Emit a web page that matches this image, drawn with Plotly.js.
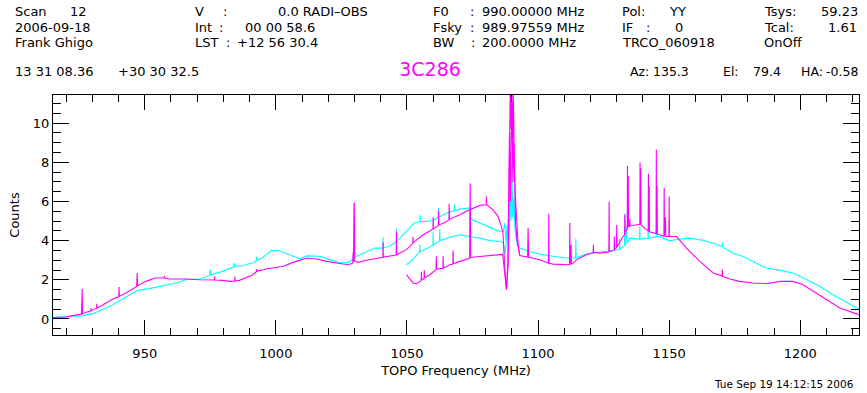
<!DOCTYPE html>
<html>
<head>
<meta charset="utf-8">
<script src="https://cdn.plot.ly/plotly-3.0.1.min.js"></script>
<style>html,body{margin:0;padding:0;background:#fff;}#chart{width:867px;height:393px;}</style>
</head>
<body>
<div id="chart"></div>
<script>
// ---------- DATA ----------
const cyanAFreq = [915,919.8,926.3,930.1,933.9,937.7,941.5,945.4,947.3,951.7,955.5,959.3,963.2,965.7,970.8,974.6,975.0,975.3,979.7,984.0,984.2,984.4,987.3,990.8,992.5,992.6,992.8,995.1,998.3,1000.9,1004,1006.6,1009.1,1011.7,1016.7,1020.6,1023.7,1026.3,1028.2,1029.5,1029.7,1029.9,1033.3,1037.7,1040.8,1040.9,1041.0,1043.4,1045.9,1046,1046.1,1049.8,1053,1054.9,1055,1055.1,1056.8,1060,1061.9,1062,1062.1,1063.2,1066.1,1068,1068.1,1068.2,1070.1,1073.9,1074.3,1077.8,1081.6,1084.7,1086.7,1087.3,1087.8,1088.4,1089.2,1089.6,1090.0,1090.4,1090.8,1091.5,1092.3];
const cyanACounts = [0.07,0.10,0.17,0.27,0.47,0.73,1.02,1.33,1.46,1.55,1.66,1.75,1.87,2.02,2.04,2.21,2.52,2.25,2.43,2.66,2.85,2.69,2.72,2.86,2.95,3.19,2.99,3.15,3.49,3.50,3.33,3.20,3.08,3.22,3.20,3.03,2.89,2.86,2.94,3.10,3.50,3.15,3.37,3.62,3.62,4.18,3.64,3.70,3.95,4.59,3.97,4.47,4.93,4.96,5.32,4.97,4.98,5.03,5.20,5.66,5.20,5.27,5.46,5.52,5.85,5.53,5.61,5.67,5.10,4.90,4.67,4.50,4.47,4.90,4.00,4.30,6.90,5.00,7.95,5.20,6.20,4.20,3.70];

const cyanBFreq = [1049.8,1052.3,1054.8,1054.9,1055.0,1057.4,1059.9,1060,1060.1,1062.4,1062.5,1062.6,1066.1,1070.1,1073.9,1074.1,1074.3,1077.8,1081.6,1085.4,1086.7,1087.5,1088.2,1088.8,1089.5,1090.2,1090.7,1091.3,1092.3,1093,1096.8,1100.6,1105.7,1110.8,1114.3,1114.4,1114.5,1118.4,1122.3,1126.1,1129.9,1131.0,1131.1,1131.2,1133.0,1133.1,1133.3,1133.7,1134.0,1135,1138.7,1138.8,1138.9,1141.9,1142.0,1142.1,1145.0,1145.1,1145.2,1146.4,1150.2,1154,1157.9,1163,1166.8,1170.2,1170.3,1170.4,1174.4,1178.2,1182,1187.1,1192.2,1197.3,1202.3,1207.4,1212.5,1217.6,1222.3];
const cyanBCounts = [2.77,3.06,3.42,3.80,3.45,3.57,3.78,4.47,3.79,3.98,4.59,4.00,4.16,4.30,4.21,5.60,4.20,4.13,4.00,3.96,3.90,3.30,4.80,3.40,6.93,5.20,6.10,4.50,3.80,3.62,3.45,3.31,3.20,3.11,3.11,4.10,3.12,3.31,3.41,3.45,3.50,3.55,4.10,3.57,3.75,5.40,3.78,4.72,3.85,4.13,4.08,4.72,4.08,4.12,4.64,4.12,4.20,4.55,4.20,4.21,3.99,4.08,4.13,4.01,3.87,3.70,3.90,3.68,3.36,3.19,2.94,2.60,2.48,2.35,2.01,1.67,1.24,0.85,0.51];

const magentaAFreq = [914.9,919.7,922.5,925.9,926.1,926.3,927.6,929.4,929.5,929.6,931.6,931.7,931.8,932.7,935.2,937.8,940.1,940.2,940.3,942.9,945.4,946.9,947.1,947.3,950.5,953.9,957.4,957.5,957.6,959.4,965.8,970.8,974.7,976.5,976.6,976.7,979.7,982.3,984.3,984.4,984.5,986.1,988.6,990.9,992.5,992.6,992.8,996.4,1000.2,1002.8,1006.6,1011.7,1015.5,1019.3,1024.4,1027.6,1029.3,1029.5,1029.6,1029.8,1029.9,1030.1,1031.4,1034.5,1037.1,1040.8,1040.9,1041.0,1045.9,1046,1046.1,1049.8,1052.2,1052.3,1052.4,1053,1056.2,1059.9,1060,1060.1,1062.0,1062.1,1062.2,1064,1066.0,1066.1,1066.2,1070.1,1073.9,1077.8,1080.2,1080.3,1080.4,1082.8,1084.7,1086,1086.6,1087.3,1087.9,1088.6,1088.9,1089.4,1089.7,1090.0,1090.3,1090.5,1091.1,1091.7,1092.4,1093];
const magentaACounts = [0.07,0.10,0.17,0.25,1.54,0.27,0.34,0.40,0.55,0.42,0.55,0.78,0.57,0.61,0.82,1.02,1.13,1.63,1.15,1.33,1.55,1.66,2.35,1.70,1.92,2.09,2.09,2.20,2.09,2.04,2.04,2.00,2.00,1.99,2.17,1.99,1.97,1.92,1.93,2.15,1.94,1.97,2.09,2.23,2.40,2.55,2.43,2.55,2.62,2.69,2.89,3.11,3.06,2.94,2.83,2.77,2.85,3.40,2.90,5.92,5.92,2.95,2.89,3.00,3.06,3.15,3.91,3.16,3.27,4.47,3.28,3.54,3.85,4.20,3.90,3.96,4.30,4.58,5.20,4.60,4.78,5.54,4.80,4.90,5.06,5.88,5.08,5.32,5.58,5.80,5.83,6.26,5.83,5.58,5.24,4.73,4.40,2.63,1.50,2.80,7.20,12.0,9.70,11.1,8.00,12.0,6.85,5.50,3.79,3.28];

const magentaBFreq = [1049.8,1052.3,1053.6,1055.4,1055.5,1055.6,1056.5,1056.6,1056.7,1058.7,1061.1,1061.2,1061.3,1063.7,1063.8,1063.9,1066.3,1067.5,1067.6,1067.7,1070.1,1073.9,1074.1,1074.3,1077.8,1081.6,1085.4,1086.5,1087.4,1088.0,1088.5,1089.1,1089.5,1089.9,1090.4,1090.8,1091.4,1092,1093,1096.0,1096.2,1096.4,1096.8,1100.6,1104.0,1104.1,1104.2,1105.7,1110.8,1112.0,1112.1,1112.2,1112.6,1112.7,1113.4,1114.6,1118.4,1121.0,1121.1,1121.2,1123.5,1126.1,1127.0,1127.1,1127.2,1129.0,1129.1,1129.2,1129.9,1130.0,1130.1,1132.4,1133.0,1133.1,1133.2,1134.0,1134.1,1134.2,1134.4,1134.5,1134.9,1135.0,1135.1,1138.8,1138.9,1139.0,1139.2,1139.3,1141.3,1142.0,1142.1,1142.2,1142.4,1142.5,1145.0,1145.1,1145.2,1145.4,1145.5,1148.0,1148.1,1148.2,1148.6,1148.7,1149.9,1150.0,1150.1,1152.8,1156.6,1161.7,1166.8,1170.2,1170.3,1170.4,1173.1,1176.9,1182,1187.1,1192.2,1197.3,1201.1,1204.9,1210,1215.1,1218.9,1222.3];
const magentaBCounts = [2.26,1.84,1.80,1.95,2.40,2.00,2.05,2.50,2.10,2.26,2.53,3.20,2.55,2.59,3.23,2.60,2.77,2.80,3.50,2.82,2.94,3.10,6.93,3.14,3.19,3.24,3.28,3.30,2.20,1.50,3.00,9.50,6.00,12.0,7.00,9.00,5.00,4.00,3.24,3.16,4.64,3.15,3.14,3.02,2.85,5.37,2.85,2.80,2.77,2.77,4.90,2.78,3.80,2.80,2.85,3.02,3.28,3.38,3.79,3.40,3.36,3.42,3.42,6.00,3.44,3.50,4.20,3.55,3.64,4.80,3.67,4.21,4.30,5.31,4.40,4.60,7.82,4.65,7.30,4.72,4.72,5.10,4.75,4.84,7.99,4.83,7.70,4.80,4.55,4.50,7.42,4.48,6.79,4.45,4.36,8.65,4.35,6.80,4.33,4.22,6.70,4.22,5.20,4.21,4.21,6.26,4.21,4.21,3.62,2.94,2.35,2.20,2.52,2.18,2.04,1.92,1.84,1.80,1.92,1.92,1.75,1.41,0.99,0.56,0.39,0.22];

const xTitle = 'TOPO Frequency (MHz)';
const yTitle = 'Counts';
const sourceName = '3C286';
const headerLeft = [
  ['Scan', 15, 1], ['12', 70, 1],
  ['2006\u201009\u201018', 15, 2],
  ['Frank Ghigo', 15, 3],
  ['V', 195, 1], [':', 223, 1], ['0.0 RADI\u2013OBS', 278, 1],
  ['Int', 195, 2], [':', 219, 2], ['00 00 58.6', 245, 2],
  ['LST', 195, 3], [':', 226, 3], ['+12 56 30.4', 237, 3],
  ['F0', 433, 1], [':', 470, 1], ['990.00000 MHz', 482, 1],
  ['Fsky', 433, 2], [':', 470, 2], ['989.97559 MHz', 482, 2],
  ['BW', 433, 3], [':', 471, 3], ['200.0000 MHz', 482, 3],
  ['Pol:', 622, 1], ['YY', 669, 1],
  ['IF', 622, 2], [':', 646, 2], ['0', 675, 2],
  ['TRCO_060918', 622, 3],
  ['Tsys:', 764, 1], ['Tcal:', 764, 2], ['OnOff', 764, 3],
  ['13 31 08.36', 15, 4], ['+30 30 32.5', 118, 4],
  ['Az:', 630, 4], ['135.3', 653, 4], ['El:', 723, 4], ['79.4', 753, 4], ['HA:', 801, 4]
];
const headerRight = [['59.23', 858, 1], ['1.61', 857, 2], ['-0.58', 858, 4]];
const stamp = 'Tue Sep 19 14:12:15 2006';

// ---------- LAYOUT ----------
const W = 867, H = 393;
const M = {l: 53, r: 8, t: 95, b: 58};
const PW = W - M.l - M.r, PH = H - M.t - M.b;
const rowY = {1: 11.5, 2: 27, 3: 42.5, 4: 71.5};
const px2x = p => (p - M.l) / PW;
const py2y = p => 1 - (p - M.t) / PH;
const FONT = 'DejaVu Sans, Liberation Sans, sans-serif';

const annotations = [];
const addText = (t, x, y, anchor, size) => annotations.push({text: t, x: px2x(x), y: py2y(y), xref: 'paper', yref: 'paper', xanchor: anchor, yanchor: 'middle', showarrow: false, borderpad: 0, borderwidth: 0, font: {family: FONT, size: size, color: '#000'}});
headerLeft.forEach(([t, x, r]) => addText(t, x, rowY[r], 'left', r === 4 && x > 600 ? 12.5 : 13));
headerRight.forEach(([t, x, r]) => addText(t, x, rowY[r], 'right', r === 4 ? 12.5 : 13));
addText(stamp, 854, 384, 'right', 10.5);

const mk = (x, y, c) => ({x: x, y: y, type: 'scatter', mode: 'lines', line: {color: c, width: 1.1}, hoverinfo: 'skip'});
const data = [
  mk(cyanAFreq, cyanACounts, '#00ffff'),
  mk(cyanBFreq, cyanBCounts, '#00ffff'),
  mk(magentaAFreq, magentaACounts, '#ff00ff'),
  mk(magentaBFreq, magentaBCounts, '#ff00ff')
];

const axisCommon = {showgrid: false, zeroline: false, showline: true, linecolor: '#000', linewidth: 1, mirror: 'ticks', ticks: 'inside', tickcolor: '#000', tickwidth: 1, tickfont: {family: FONT, size: 13, color: '#000'}};

const layout = {
  width: W, height: H, margin: M, autosize: false,
  paper_bgcolor: '#fff', plot_bgcolor: '#fff', showlegend: false, hovermode: false,
  title: {text: sourceName, font: {family: FONT, size: 19, color: '#ff00ff'}, x: 430 / W, xref: 'container', xanchor: 'center', y: 1 - 69 / H, yref: 'container', yanchor: 'middle'},
  xaxis: Object.assign({}, axisCommon, {range: [915, 1222.4], tick0: 0, dtick: 50, ticklen: 15, ticklabelstandoff: 6, minor: {dtick: 10, ticklen: 7, ticks: 'inside', tickcolor: '#000', showgrid: false}, title: {text: xTitle, font: {family: FONT, size: 13, color: '#000'}, standoff: 6}, automargin: false}),
  yaxis: Object.assign({}, axisCommon, {range: [-0.82, 11.44], tick0: 0, dtick: 2, ticklen: 16, minor: {dtick: 0.5, ticklen: 8, ticks: 'inside', tickcolor: '#000', showgrid: false}, title: {text: yTitle, font: {family: FONT, size: 13, color: '#000'}, standoff: 10}, automargin: false}),
  annotations: annotations
};

Plotly.newPlot('chart', data, layout, {staticPlot: true, displayModeBar: false});
</script>
</body>
</html>
